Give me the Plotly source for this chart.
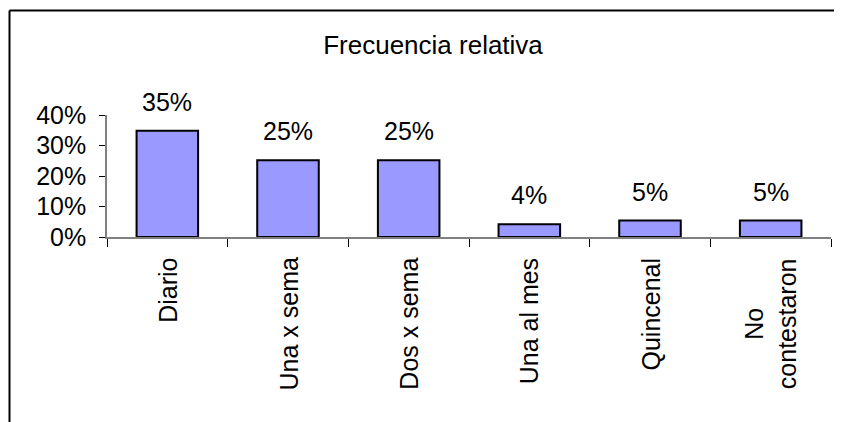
import plotly.graph_objects as go

CATEGORIES = ["Diario", "Una x sema", "Dos x sema", "Una al mes", "Quincenal", "No contestaron"]
CATEGORY_LABELS = ["Diario", "Una x sema", "Dos x sema", "Una al mes", "Quincenal", "No<br>contestaron"]
FRECUENCIA = [0.348, 0.252, 0.252, 0.042, 0.054, 0.054]
Y_TICKS = [0.0, 0.1, 0.2, 0.3, 0.4]
Y_TICK_LABELS = ["0%", "10%", "20%", "30%", "40%"]

FONT = "Liberation Sans, Arial, sans-serif"
BAR_COLOR = "#9999ff"

# the page body adds an 8px offset, so the figure is sized to fit the window
W, H = 834, 414
L, R, T, B = 99, 11, 107, 185
PLOT_W = W - L - R
PLOT_H = H - T - B


def _px_to_paper_x(px):
    return (px - L) / PLOT_W


def _px_to_paper_y(py):
    return (H - B - py) / PLOT_H


fig = go.Figure()
fig.add_trace(
    go.Bar(
        x=CATEGORIES,
        y=FRECUENCIA,
        width=0.51,
        marker=dict(color=BAR_COLOR, line=dict(color="#000000", width=2)),
        hoverinfo="skip",
    )
)

# value labels above the bars
for cat, val in zip(CATEGORIES, FRECUENCIA):
    fig.add_annotation(
        x=cat,
        y=val,
        text=f"{val:.0%}",
        showarrow=False,
        yanchor="bottom",
        yshift=13,
        font=dict(family=FONT, size=25, color="#000000"),
    )

# rotated category labels, centred lines like the original
for cat, label in zip(CATEGORIES, CATEGORY_LABELS):
    fig.add_annotation(
        x=cat,
        y=0,
        yref="paper",
        text=label,
        textangle=-90,
        align="center",
        showarrow=False,
        xanchor="center",
        yanchor="top",
        yshift=-19,
        font=dict(family=FONT, size=25, color="#000000"),
    )

# chart frame (top and left edges visible)
fig.add_shape(
    type="line", xref="paper", yref="paper",
    x0=_px_to_paper_x(1.5), x1=_px_to_paper_x(850),
    y0=_px_to_paper_y(2.5), y1=_px_to_paper_y(2.5),
    line=dict(color="#000000", width=2),
)
fig.add_shape(
    type="line", xref="paper", yref="paper",
    x0=_px_to_paper_x(1.5), x1=_px_to_paper_x(1.5),
    y0=_px_to_paper_y(2.5), y1=_px_to_paper_y(430),
    line=dict(color="#000000", width=2),
)

fig.update_layout(
    width=W,
    height=H,
    margin=dict(l=L, r=R, t=T, b=B),
    paper_bgcolor="#ffffff",
    plot_bgcolor="#ffffff",
    showlegend=False,
    font=dict(family=FONT, size=25, color="#000000"),
    title=dict(
        text="Frecuencia relativa",
        x=425 / W,
        xref="container",
        xanchor="center",
        y=1 - 37 / H,
        yref="container",
        yanchor="middle",
        font=dict(family=FONT, size=26, color="#000000"),
    ),
)
fig.update_xaxes(
    type="category",
    tickson="boundaries",
    ticks="outside",
    ticklen=8,
    tickcolor="#000000",
    showline=True,
    linecolor="#808080",
    linewidth=1.5,
    showticklabels=False,
    showgrid=False,
)
fig.update_yaxes(
    range=[0, 0.4],
    tickvals=Y_TICKS,
    ticktext=Y_TICK_LABELS,
    ticks="outside",
    ticklen=6,
    tickcolor="#000000",
    showline=True,
    linecolor="#808080",
    linewidth=1.5,
    showgrid=False,
    zeroline=False,
    ticklabelstandoff=8,
    tickfont=dict(family=FONT, size=25, color="#000000"),
)

fig.write_html("out.html")
